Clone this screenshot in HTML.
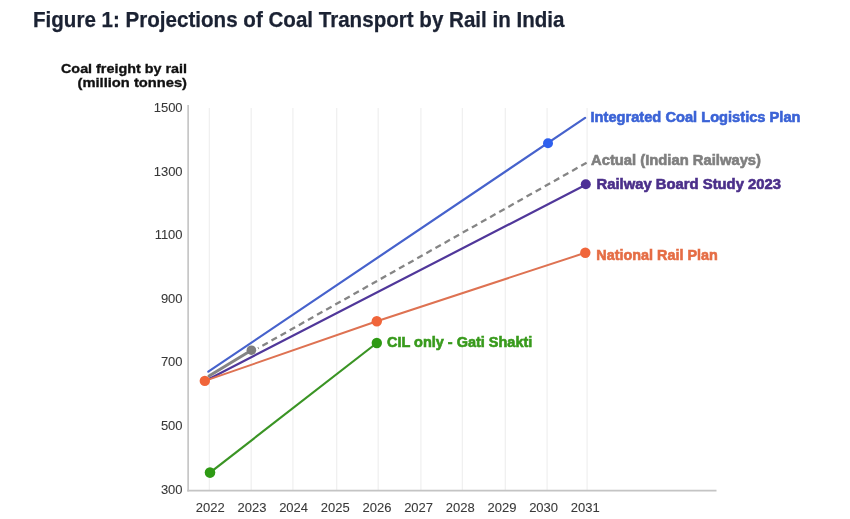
<!DOCTYPE html>
<html><head><meta charset="utf-8"><style>
html,body{margin:0;padding:0;background:#fff;width:850px;height:519px;overflow:hidden}
svg{display:block;filter:blur(0.35px)}
text{font-family:"Liberation Sans", sans-serif}
</style></head><body>
<svg width="850" height="519" viewBox="0 0 850 519">
<rect width="850" height="519" fill="#fff"/>
<text x="33" y="26.8" font-size="21.3" font-weight="bold" fill="#1b2233" stroke="#1b2233" stroke-width="0.25" textLength="531.5" lengthAdjust="spacingAndGlyphs">Figure 1: Projections of Coal Transport by Rail in India</text>
<text x="61" y="73.3" font-size="13.6" font-weight="bold" fill="#111" stroke="#111" stroke-width="0.35" textLength="126" lengthAdjust="spacingAndGlyphs">Coal freight by rail</text>
<text x="77.5" y="87.1" font-size="13.6" font-weight="bold" fill="#111" stroke="#111" stroke-width="0.35" textLength="109.5" lengthAdjust="spacingAndGlyphs">(million tonnes)</text>
<line x1="209.4" y1="108" x2="209.4" y2="490" stroke="#f0f0f0" stroke-width="1.3"/>
<line x1="251.2" y1="108" x2="251.2" y2="490" stroke="#f0f0f0" stroke-width="1.3"/>
<line x1="292.9" y1="108" x2="292.9" y2="490" stroke="#f0f0f0" stroke-width="1.3"/>
<line x1="336.7" y1="108" x2="336.7" y2="490" stroke="#f0f0f0" stroke-width="1.3"/>
<line x1="378.2" y1="108" x2="378.2" y2="490" stroke="#f0f0f0" stroke-width="1.3"/>
<line x1="420.9" y1="108" x2="420.9" y2="490" stroke="#f0f0f0" stroke-width="1.3"/>
<line x1="462.4" y1="108" x2="462.4" y2="490" stroke="#f0f0f0" stroke-width="1.3"/>
<line x1="505.3" y1="108" x2="505.3" y2="490" stroke="#f0f0f0" stroke-width="1.3"/>
<line x1="547.1" y1="108" x2="547.1" y2="490" stroke="#f0f0f0" stroke-width="1.3"/>
<line x1="587.1" y1="108" x2="587.1" y2="490" stroke="#f0f0f0" stroke-width="1.3"/>
<line x1="188.1" y1="105" x2="188.1" y2="491.5" stroke="#b4b4b4" stroke-width="1.3"/>
<line x1="187.3" y1="490.6" x2="716.5" y2="490.6" stroke="#c4c4c4" stroke-width="1.8"/>
<text x="182.6" y="112.3" font-size="13" fill="#383838" stroke="#383838" stroke-width="0.08" text-anchor="end">1500</text>
<text x="182.6" y="175.8" font-size="13" fill="#383838" stroke="#383838" stroke-width="0.08" text-anchor="end">1300</text>
<text x="182.6" y="239.4" font-size="13" fill="#383838" stroke="#383838" stroke-width="0.08" text-anchor="end">1100</text>
<text x="182.6" y="302.9" font-size="13" fill="#383838" stroke="#383838" stroke-width="0.08" text-anchor="end">900</text>
<text x="182.6" y="366.4" font-size="13" fill="#383838" stroke="#383838" stroke-width="0.08" text-anchor="end">700</text>
<text x="182.6" y="429.9" font-size="13" fill="#383838" stroke="#383838" stroke-width="0.08" text-anchor="end">500</text>
<text x="182.6" y="493.5" font-size="13" fill="#383838" stroke="#383838" stroke-width="0.08" text-anchor="end">300</text>
<text x="210.2" y="511.8" font-size="13" fill="#383838" stroke="#383838" stroke-width="0.08" text-anchor="middle">2022</text>
<text x="251.9" y="511.8" font-size="13" fill="#383838" stroke="#383838" stroke-width="0.08" text-anchor="middle">2023</text>
<text x="293.6" y="511.8" font-size="13" fill="#383838" stroke="#383838" stroke-width="0.08" text-anchor="middle">2024</text>
<text x="335.2" y="511.8" font-size="13" fill="#383838" stroke="#383838" stroke-width="0.08" text-anchor="middle">2025</text>
<text x="376.9" y="511.8" font-size="13" fill="#383838" stroke="#383838" stroke-width="0.08" text-anchor="middle">2026</text>
<text x="418.6" y="511.8" font-size="13" fill="#383838" stroke="#383838" stroke-width="0.08" text-anchor="middle">2027</text>
<text x="460.3" y="511.8" font-size="13" fill="#383838" stroke="#383838" stroke-width="0.08" text-anchor="middle">2028</text>
<text x="502.0" y="511.8" font-size="13" fill="#383838" stroke="#383838" stroke-width="0.08" text-anchor="middle">2029</text>
<text x="543.6" y="511.8" font-size="13" fill="#383838" stroke="#383838" stroke-width="0.08" text-anchor="middle">2030</text>
<text x="585.3" y="511.8" font-size="13" fill="#383838" stroke="#383838" stroke-width="0.08" text-anchor="middle">2031</text>
<line x1="208.3" y1="371.7" x2="585.1" y2="117.9" stroke="#4662cc" stroke-width="2.2" stroke-linecap="round"/>
<path d="M586.6,162.7 L258,348.2" stroke="#858585" stroke-width="2.3" stroke-dasharray="6.2,4.26" fill="none"/>
<line x1="209" y1="376" x2="251.4" y2="350.2" stroke="#858585" stroke-width="3" stroke-linecap="round"/>
<line x1="209" y1="379" x2="585.8" y2="184.8" stroke="#50379a" stroke-width="2.2" stroke-linecap="round"/>
<polyline points="204.8,380.9 376.8,321.2 585.3,252.8" fill="none" stroke="#de7252" stroke-width="2"/>
<line x1="210" y1="472.6" x2="376.8" y2="343" stroke="#3a9424" stroke-width="2.2"/>
<circle cx="548" cy="143.3" r="5" fill="#2f60ee"/>
<circle cx="251.4" cy="350.2" r="4.8" fill="#7d7d7d"/>
<circle cx="585.8" cy="184.3" r="5" fill="#4d2f96"/>
<circle cx="204.8" cy="380.9" r="5.2" fill="#f0653a"/>
<circle cx="376.8" cy="321.2" r="5.2" fill="#f0653a"/>
<circle cx="585.3" cy="252.8" r="5.2" fill="#f0653a"/>
<circle cx="210" cy="472.6" r="5.3" fill="#2e9a14"/>
<circle cx="376.8" cy="343" r="5.2" fill="#2e9a14"/>
<text x="590.5" y="121.5" font-size="14.5" font-weight="bold" fill="#3b63d6" textLength="210" stroke="#3b63d6" stroke-width="0.6" lengthAdjust="spacingAndGlyphs">Integrated Coal Logistics Plan</text>
<text x="591" y="165.2" font-size="14.4" font-weight="bold" fill="#7f7f7f" textLength="170" stroke="#7f7f7f" stroke-width="0.6" lengthAdjust="spacingAndGlyphs">Actual (Indian Railways)</text>
<text x="596.5" y="189.3" font-size="14.4" font-weight="bold" fill="#4b2f8a" textLength="184.5" stroke="#4b2f8a" stroke-width="0.6" lengthAdjust="spacingAndGlyphs">Railway Board Study 2023</text>
<text x="596.3" y="259.6" font-size="14.4" font-weight="bold" fill="#e56d45" textLength="121.5" stroke="#e56d45" stroke-width="0.6" lengthAdjust="spacingAndGlyphs">National Rail Plan</text>
<text x="387" y="347.4" font-size="14.2" font-weight="bold" fill="#389a1c" textLength="145.3" stroke="#389a1c" stroke-width="0.6" lengthAdjust="spacingAndGlyphs">CIL only - Gati Shakti</text>
</svg></body></html>
